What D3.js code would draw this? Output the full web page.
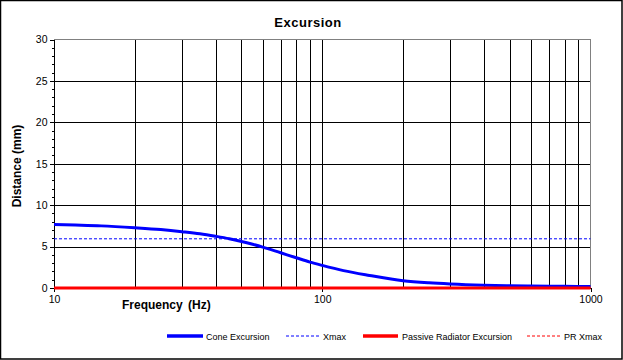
<!DOCTYPE html>
<html>
<head>
<meta charset="utf-8">
<script src="https://cdn.jsdelivr.net/npm/d3@7"></script>
<style>
  html, body { margin: 0; padding: 0; background: #fff; }
  svg { display: block; font-family: "Liberation Sans", Arial, sans-serif; }
</style>
</head>
<body>
<svg id="chart" width="623" height="360"></svg>
<script>
// ---- data ----
const frequencies = [10, 12, 15, 20, 25, 30, 35, 40, 45, 50, 55, 60, 70, 80, 90, 100, 120, 150, 200, 250, 300, 400, 500, 600, 800, 1000];
const coneExcursion = [7.67, 7.6, 7.5, 7.27, 7.05, 6.8, 6.55, 6.25, 5.95, 5.62, 5.28, 4.94, 4.25, 3.65, 3.13, 2.73, 2.1, 1.52, 0.88, 0.62, 0.48, 0.33, 0.26, 0.23, 0.2, 0.19];
const passiveRadiatorExcursion = frequencies.map(() => 0);
const xmax = 6;
const prXmax = 0;
const yTicks = [0, 5, 10, 15, 20, 25, 30];
const xTicks = [10, 100, 1000];
const seriesNames = ["Cone Excursion", "Xmax", "Passive Radiator Excursion", "PR Xmax"];

// ---- layout ----
const svg = d3.select("#chart");
const L = 54, R = 590.5, T = 39.5, B = 288;
const x = d3.scaleLog().domain([10, 1000]).range([L, R]);
const y = d3.scaleLinear().domain([0, 30]).range([B, T]);

// outer frame
svg.append("rect").attr("x", 0.5).attr("y", 0.5).attr("width", 621.5).attr("height", 358.5)
  .attr("fill", "#fff").attr("stroke", "#000").attr("stroke-width", 1.5);

// title
svg.append("text").attr("x", 308).attr("y", 27).attr("text-anchor", "middle")
  .attr("font-size", 13).attr("letter-spacing", 0.5).attr("font-weight", "bold").text("Excursion");

// grid
const g = svg.append("g").attr("shape-rendering", "crispEdges");
const minorX = [];
[10, 100].forEach(d => { for (let k = 2; k <= 9; k++) minorX.push(d * k); });
minorX.push(100);
g.selectAll("line.vg").data(minorX).join("line")
  .attr("x1", d => Math.round(x(d)) + 0.5).attr("x2", d => Math.round(x(d)) + 0.5)
  .attr("y1", T).attr("y2", B).attr("stroke", "#000").attr("stroke-width", 1);
g.selectAll("line.hg").data(yTicks.filter(v => v > 0 && v < 30)).join("line")
  .attr("x1", L).attr("x2", R)
  .attr("y1", d => Math.round(y(d)) + 0.5).attr("y2", d => Math.round(y(d)) + 0.5)
  .attr("stroke", "#000").attr("stroke-width", 1);
// top and right border (grey)
g.append("line").attr("x1", L).attr("x2", R).attr("y1", T).attr("y2", T).attr("stroke", "#808080");
g.append("line").attr("x1", R).attr("x2", R).attr("y1", T).attr("y2", B).attr("stroke", "#808080");

// y axis
const yAxisMinor = d3.axisLeft(y).tickValues(d3.range(0, 31, 1)).tickSize(2).tickFormat("");
svg.append("g").attr("transform", `translate(${L},0)`).attr("shape-rendering", "crispEdges").call(yAxisMinor)
  .call(s => s.select(".domain").remove());
const yAxis = d3.axisLeft(y).tickValues(yTicks).tickSize(4).tickPadding(2.5);
svg.append("g").attr("transform", `translate(${L},0)`).attr("shape-rendering", "crispEdges").call(yAxis)
  .call(s => s.selectAll("text").attr("font-size", 10.5).attr("font-family", "Liberation Sans, Arial, sans-serif").attr("fill", "#000"))
  .call(s => s.selectAll("path,line").attr("stroke", "#000"));

// x axis
const xAxis = d3.axisBottom(x).tickValues(xTicks).tickSize(4).tickPadding(4).tickFormat(d3.format("d"));
svg.append("g").attr("transform", `translate(0,${B})`).attr("shape-rendering", "crispEdges").call(xAxis)
  .call(s => s.selectAll("text").attr("font-size", 10.5).attr("font-family", "Liberation Sans, Arial, sans-serif").attr("fill", "#000"))
  .call(s => s.selectAll("path,line").attr("stroke", "#000"));

// axis titles
svg.append("text").attr("x", 122).attr("y", 309).attr("font-size", 12).attr("font-weight", "bold")
  .attr("word-spacing", 2).text("Frequency (Hz)");
svg.append("text").attr("transform", "translate(21,166) rotate(-90)").attr("text-anchor", "middle")
  .attr("font-size", 12).attr("font-weight", "bold").text("Distance (mm)");

// series
const line = d3.line().x(d => x(d[0])).y(d => y(d[1])).curve(d3.curveMonotoneX);
svg.append("path").datum(frequencies.map((f, i) => [f, coneExcursion[i]]))
  .attr("d", line).attr("fill", "none").attr("stroke", "#0000ff").attr("stroke-width", 3);
svg.append("line").attr("x1", L).attr("x2", R).attr("y1", y(xmax) + 0.5).attr("y2", y(xmax) + 0.5)
  .attr("stroke", "#0000ff").attr("stroke-width", 1).attr("stroke-dasharray", "3,2");
svg.append("path").datum(frequencies.map((f, i) => [f, passiveRadiatorExcursion[i]]))
  .attr("d", line).attr("fill", "none").attr("stroke", "#ff0000").attr("stroke-width", 3);
svg.append("line").attr("x1", L).attr("x2", R).attr("y1", y(prXmax)).attr("y2", y(prXmax))
  .attr("stroke", "#ff0000").attr("stroke-width", 1).attr("stroke-dasharray", "3,2");

// legend
const legendY = 336;
const legendItems = [
  { name: seriesNames[0], x0: 167, x1: 203, tx: 206, color: "#0000ff", w: 3.5, dash: null },
  { name: seriesNames[1], x0: 286, x1: 320, tx: 323, color: "#0000ff", w: 1, dash: "3,2" },
  { name: seriesNames[2], x0: 363, x1: 398, tx: 402, color: "#ff0000", w: 3.5, dash: null },
  { name: seriesNames[3], x0: 527, x1: 560, tx: 564, color: "#ff0000", w: 1, dash: "3,2" }
];
const lg = svg.append("g");
legendItems.forEach(it => {
  lg.append("line").attr("x1", it.x0).attr("x2", it.x1).attr("y1", legendY).attr("y2", legendY)
    .attr("stroke", it.color).attr("stroke-width", it.w).attr("stroke-dasharray", it.dash);
  lg.append("text").attr("x", it.tx).attr("y", legendY + 3.5).attr("font-size", 9).text(it.name);
});
</script>
</body>
</html>
